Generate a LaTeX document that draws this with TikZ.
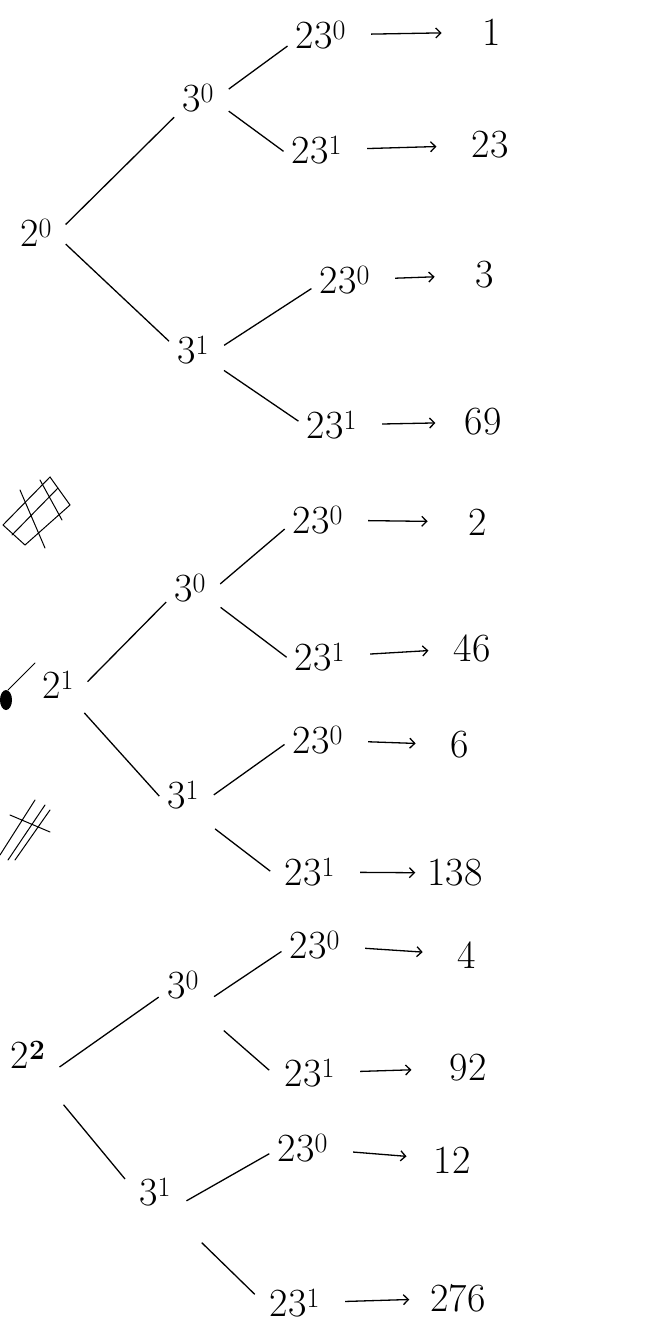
\documentclass[tikz,border=0pt]{standalone}
\usepackage{fontspec}
\usepackage{tikz}
\usetikzlibrary{positioning, arrows.meta}

\newcommand{\pw}[2]{#1\textsuperscript{#2}}

\begin{document}
\begin{tikzpicture}[
        x=1pt, y=-1pt,
        term/.style={inner sep=5pt, font=\fontsize{40}{48}\selectfont},
        branch/.style={line width=1.3pt},
        maps/.style={-{Straight Barb[length=5pt, width=10pt]}, line width=1.3pt,
            shorten <=20pt},
        scrawl/.style={line width=1pt, line cap=round}
    ]
    \useasboundingbox (0,0) rectangle (654,1337);

    % 2^0
    \node[term] (p0) at (36,233) {\pw{2}{0}};
    \node[term] (p0a) at (198,98) {\pw{3}{0}};
    \node[term] (p0b) at (193,350) {\pw{3}{1}};
    \node[term] (l0aa) at (321,35) {\pw{23}{0}};
    \node[term] (l0ab) at (317,150) {\pw{23}{1}};
    \node[term] (l0ba) at (345,280) {\pw{23}{0}};
    \node[term] (l0bb) at (332,425) {\pw{23}{1}};
    \node[term] (v0aa) at (492,32) {1};
    \node[term] (v0ab) at (490,145) {23};
    \node[term] (v0ba) at (485,275) {3};
    \node[term] (v0bb) at (483,422) {69};

    % 2^1
    \node[term] (p1) at (58,685) {\pw{2}{1}};
    \node[term] (p1a) at (190,588) {\pw{3}{0}};
    \node[term] (p1b) at (183,795) {\pw{3}{1}};
    \node[term] (l1aa) at (318,520) {\pw{23}{0}};
    \node[term] (l1ab) at (320,657) {\pw{23}{1}};
    \node[term] (l1ba) at (318,740) {\pw{23}{0}};
    \node[term] (l1bb) at (310,872) {\pw{23}{1}};
    \node[term] (v1aa) at (478,522) {2};
    \node[term] (v1ab) at (472,648) {46};
    \node[term] (v1ba) at (460,745) {6};
    \node[term] (v1bb) at (455,873) {138};

    % 2^2
    \node[term] (p2) at (28,1055) {\pw{2}{\textbf{2}}};
    \node[term] (p2a) at (183,985) {\pw{3}{0}};
    \node[term] (p2b) at (155,1192) {\pw{3}{1}};
    \node[term] (l2aa) at (315,945) {\pw{23}{0}};
    \node[term] (l2ab) at (310,1073) {\pw{23}{1}};
    \node[term] (l2ba) at (303,1148) {\pw{23}{0}};
    \node[term] (l2bb) at (295,1303) {\pw{23}{1}};
    \node[term] (v2aa) at (467,955) {4};
    \node[term] (v2ab) at (468,1068) {92};
    \node[term] (v2ba) at (452,1160) {12};
    \node[term] (v2bb) at (458,1298) {276};

    % branches: parent/start angle/child/end angle/gap at start/gap at end
    \foreach \a/\s/\b/\e/\m/\n in {
            p0/0/p0a/218/12/4, p0/352/p0b/164/12/4,
            p0a/5/l0aa/196/12/4, p0a/344/l0ab/187/12/4,
            p0b/355/l0ba/192/12/4, p0b/327/l0bb/177/12/4,
            p1/346/p1a/208/12/4, p1/314/p1b/191/12/4,
            p1a/350/l1aa/192/12/4, p1a/330/l1ab/185/12/4,
            p1b/342/l1ba/184/12/4, p1b/304/l1bb/192/24/12,
            p2/319/p2a/205/12/4, p2/298/p2b/174/40/14,
            p2a/319/l2aa/188/12/4, p2a/299/l2ab/192/40/14,
            p2b/325/l2ba/187/12/4, p2b/307/l2bb/182/45/14}
        \draw[branch, shorten <=\m pt, shorten >=\n pt] (\a.\s) -- (\b.\e);

    % arrows to the products
    \foreach \k/\g in {0aa/36, 0ab/30, 0ba/36, 0bb/24,
            1aa/36, 1ab/20, 1ba/30, 1bb/7,
            2aa/30, 2ab/33, 2ba/22, 2bb/16}
        \draw[maps, shorten >=\g pt] (l\k) -- (v\k);

    % crossed-out marks on the left
    \draw[scrawl] (3,525) -- (50,477) -- (70,505) -- (25,545) -- cycle;
    \draw[scrawl] (12,535) -- (58,488) (20,490) -- (45,548) (40,480) -- (62,520);
    \fill (6,700) ellipse (6pt and 10pt);
    \draw[scrawl] (8,690) -- (35,663);
    \draw[scrawl] (0,855) -- (35,800) (8,860) -- (45,805) (15,860) -- (50,810)
        (10,815) -- (50,832);
\end{tikzpicture}
\end{document}
